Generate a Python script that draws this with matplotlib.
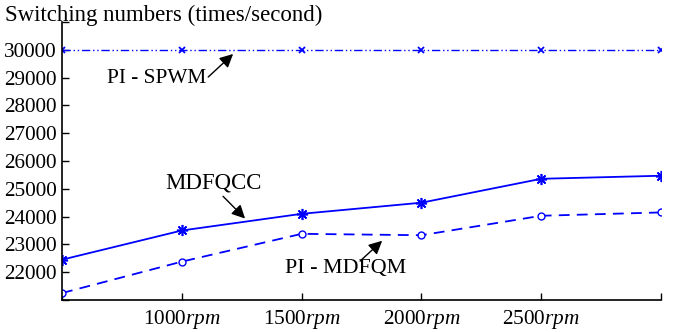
import matplotlib.pyplot as plt

plt.rcParams['font.family'] = 'Liberation Serif'
plt.rcParams['mathtext.fontset'] = 'custom'
plt.rcParams['mathtext.rm'] = 'Liberation Serif'
plt.rcParams['mathtext.it'] = 'Liberation Serif:italic'

# Motor speed (rpm) and switching counts per second
speeds = [500, 1000, 1500, 2000, 2500, 3000]
spwm = [30000, 30000, 30000, 30000, 30000, 30000]
mdfqcc = [22450, 23500, 24100, 24500, 25360, 25470]
mdfqm = [21250, 22380, 23380, 23330, 24030, 24150]

xticks = [500, 1000, 1500, 2000, 2500, 3000]
xlabels = ['', '1000$\\mathit{rpm}$', '1500$\\mathit{rpm}$',
           '2000$\\mathit{rpm}$', '2500$\\mathit{rpm}$', '']
yticks = list(range(21000, 31001, 1000))
ylabels = [''] + [str(v) for v in yticks[1:-1]] + ['']

blue = '#0000ff'
fs = 15.3

fig = plt.figure(figsize=(6.75, 3.32), dpi=100)
ax = fig.add_axes([0.0919, 0.0964, 0.8874, 0.8373])

ax.plot(speeds, spwm, color=blue, lw=1.0, ls=(0, (6, 2, 1, 2, 1, 2)),
        marker='x', ms=5, mew=1.3)
ax.plot(speeds, mdfqcc, color=blue, lw=1.3, ls='-',
        marker=(8, 2, 0), ms=8, mew=1.2)
ax.plot(speeds, mdfqm, color=blue, lw=1.3, ls=(0, (6, 4)),
        marker='o', ms=5, mfc='white', mew=1.0)

ax.set_xlim(500, 3000)
ax.set_ylim(21000, 31000)
ax.set_xticks(xticks)
ax.set_xticklabels(xlabels, fontsize=fs)
ax.set_yticks(yticks)
ax.set_yticklabels(ylabels, fontsize=fs)
ax.tick_params(direction='in', length=5, width=1.0, pad=6)
ax.tick_params(axis='y', pad=4)
for side in ['top', 'right']:
    ax.spines[side].set_visible(False)
for side in ['left', 'bottom']:
    ax.spines[side].set_linewidth(1.2)

# labels and their pointer arrows
ax.text(894, 28980, 'PI - SPWM', ha='center', va='center', fontsize=15.3)
ax.text(1132, 25200, 'MDFQCC', ha='center', va='center', fontsize=16.5)
ax.text(1685, 22145, 'PI - MDFQM', ha='center', va='center', fontsize=15.8)

arrow = dict(arrowstyle='-|>', color='k', lw=1.0, mutation_scale=20,
             shrinkA=0, shrinkB=0)
ax.annotate('', xy=(1214, 29850), xytext=(1110, 29020), arrowprops=arrow)
ax.annotate('', xy=(1264, 23930), xytext=(1172, 24730), arrowprops=arrow)
ax.annotate('', xy=(1836, 23130), xytext=(1744, 22400), arrowprops=arrow)

fig.text(5 / 675, 1 - 15 / 332, 'Switching numbers (times/second)',
         ha='left', va='center', fontsize=16.5)

fig.savefig('out.png', dpi=100)
